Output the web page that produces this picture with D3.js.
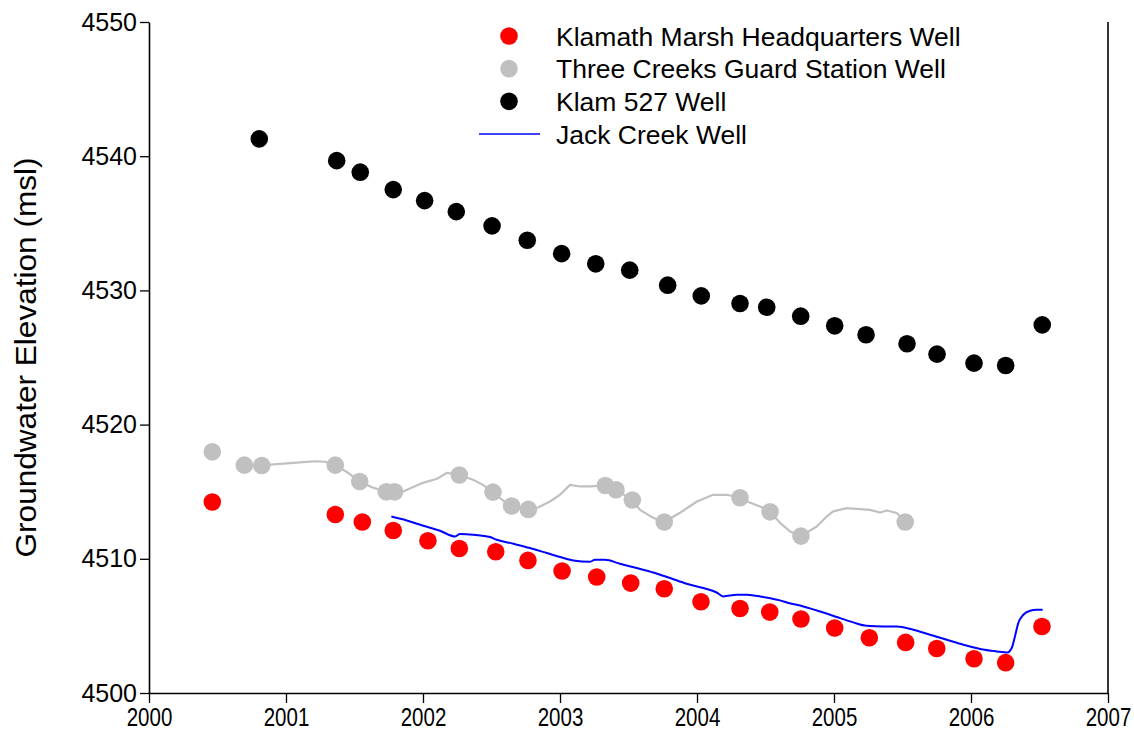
<!DOCTYPE html>
<html>
<head>
<meta charset="utf-8">
<script src="https://cdn.jsdelivr.net/npm/d3@7"></script>
<style>
  html, body { margin: 0; padding: 0; background: #fff; }
  svg { display: block; font-family: "Liberation Sans", Arial, sans-serif; }
</style>
</head>
<body>
<svg id="chart" width="1134" height="746"></svg>
<script>
// ---------------- DATA ----------------
const seriesNames = ["Klamath Marsh Headquarters Well", "Three Creeks Guard Station Well", "Klam 527 Well", "Jack Creek Well"];

const klamathYears = [2000.462, 2001.360, 2001.557, 2001.783, 2002.036, 2002.265, 2002.531, 2002.766, 2003.015, 2003.268, 2003.516, 2003.761, 2004.029, 2004.314, 2004.531, 2004.759, 2005.005, 2005.258, 2005.523, 2005.750, 2006.022, 2006.253, 2006.518];
const klamathValues = [4514.23, 4513.30, 4512.74, 4512.11, 4511.34, 4510.77, 4510.52, 4509.88, 4509.09, 4508.64, 4508.19, 4507.77, 4506.80, 4506.30, 4506.03, 4505.51, 4504.84, 4504.12, 4503.77, 4503.32, 4502.55, 4502.26, 4504.96];

const threeCreeksYears = [2000.462, 2000.696, 2000.823, 2001.360, 2001.538, 2001.732, 2001.793, 2002.265, 2002.511, 2002.647, 2002.769, 2003.331, 2003.409, 2003.528, 2003.761, 2004.314, 2004.533, 2004.759, 2005.520];
const threeCreeksValues = [4517.97, 4516.98, 4516.95, 4516.98, 4515.76, 4514.99, 4514.99, 4516.24, 4514.97, 4513.93, 4513.68, 4515.46, 4515.14, 4514.38, 4512.74, 4514.55, 4513.50, 4511.69, 4512.74];

// continuous record at Three Creeks (grey trace)
const threeCreeksLineYears = [2000.825, 2000.956, 2001.102, 2001.212, 2001.285, 2001.360, 2001.453, 2001.538, 2001.628, 2001.732, 2001.793, 2001.854, 2002.000, 2002.102, 2002.175, 2002.265, 2002.365, 2002.438, 2002.511, 2002.577, 2002.647, 2002.769, 2002.839, 2002.927, 2003.000, 2003.073, 2003.146, 2003.219, 2003.331, 2003.409, 2003.528, 2003.584, 2003.679, 2003.761, 2003.876, 2004.000, 2004.117, 2004.219, 2004.314, 2004.365, 2004.460, 2004.533, 2004.606, 2004.679, 2004.759, 2004.874, 2004.947, 2004.993, 2005.093, 2005.263, 2005.336, 2005.385, 2005.458, 2005.520];
const threeCreeksLineValues = [4516.97, 4517.08, 4517.19, 4517.27, 4517.23, 4516.98, 4516.41, 4515.76, 4515.33, 4514.99, 4514.99, 4515.02, 4515.66, 4515.96, 4516.41, 4516.24, 4515.89, 4515.51, 4514.97, 4514.40, 4513.93, 4513.68, 4513.82, 4514.27, 4514.77, 4515.51, 4515.39, 4515.39, 4515.46, 4515.14, 4514.38, 4513.65, 4513.06, 4512.74, 4513.43, 4514.27, 4514.77, 4514.77, 4514.55, 4514.27, 4513.90, 4513.50, 4512.68, 4512.04, 4511.69, 4512.41, 4513.15, 4513.53, 4513.78, 4513.65, 4513.45, 4513.60, 4513.41, 4512.74];

const klam527Years = [2000.805, 2001.370, 2001.542, 2001.783, 2002.012, 2002.243, 2002.504, 2002.761, 2003.012, 2003.261, 2003.509, 2003.786, 2004.031, 2004.314, 2004.509, 2004.757, 2005.005, 2005.234, 2005.533, 2005.752, 2006.022, 2006.253, 2006.520];
const klam527Values = [4541.29, 4539.67, 4538.81, 4537.51, 4536.69, 4535.87, 4534.81, 4533.74, 4532.74, 4531.98, 4531.51, 4530.39, 4529.59, 4529.02, 4528.75, 4528.08, 4527.36, 4526.69, 4526.02, 4525.25, 4524.58, 4524.40, 4527.43];

const jackCreekYears = [2001.769, 2001.881, 2002.002, 2002.124, 2002.234, 2002.270, 2002.367, 2002.489, 2002.538, 2002.659, 2002.781, 2002.903, 2003.000, 2003.097, 2003.219, 2003.255, 2003.328, 2003.438, 2003.560, 2003.681, 2003.803, 2003.925, 2004.046, 2004.144, 2004.192, 2004.290, 2004.363, 2004.484, 2004.606, 2004.655, 2004.776, 2004.922, 2005.020, 2005.141, 2005.239, 2005.360, 2005.458, 2005.579, 2005.701, 2005.823, 2005.944, 2006.066, 2006.188, 2006.265, 2006.297, 2006.321, 2006.345, 2006.382, 2006.431, 2006.480, 2006.523];
const jackCreekValues = [4513.15, 4512.86, 4512.46, 4512.09, 4511.66, 4511.84, 4511.79, 4511.62, 4511.42, 4511.12, 4510.80, 4510.43, 4510.13, 4509.88, 4509.78, 4509.93, 4509.93, 4509.63, 4509.31, 4508.98, 4508.57, 4508.14, 4507.82, 4507.49, 4507.20, 4507.32, 4507.32, 4507.15, 4506.90, 4506.75, 4506.45, 4506.00, 4505.66, 4505.26, 4505.01, 4504.96, 4504.96, 4504.71, 4504.34, 4503.97, 4503.60, 4503.28, 4503.10, 4503.02, 4503.35, 4504.22, 4505.21, 4505.83, 4506.13, 4506.20, 4506.20];

const xTicks = [2000, 2001, 2002, 2003, 2004, 2005, 2006, 2007];
const yTicks = [4500, 4510, 4520, 4530, 4540, 4550];
const yTitle = "Groundwater Elevation (msl)";

// ---------------- CHART ----------------
(function () {
const svg = d3.select("#chart");
const pLeft = 149, pRight = 1108, pTop = 22, pBottom = 693;

const x = d3.scaleLinear().domain([2000, 2007]).range([pLeft, pRight]);
const y = d3.scaleLinear().domain([4500, 4550]).range([pBottom, pTop]);

const zip = (xs, ys) => xs.map((v, i) => [v, ys[i]]);
const line = d3.line().x(d => x(d[0])).y(d => y(d[1]));

// grey continuous trace
svg.append("path")
  .datum(zip(threeCreeksLineYears, threeCreeksLineValues))
  .attr("d", line)
  .attr("fill", "none")
  .attr("stroke", "#c0c0c0")
  .attr("stroke-width", 2.2)
  .attr("stroke-linejoin", "round");

// grey points
svg.append("g").selectAll("circle")
  .data(zip(threeCreeksYears, threeCreeksValues))
  .join("circle")
  .attr("cx", d => x(d[0])).attr("cy", d => y(d[1]))
  .attr("r", 8.8).attr("fill", "#c0c0c0");

// black points
svg.append("g").selectAll("circle")
  .data(zip(klam527Years, klam527Values))
  .join("circle")
  .attr("cx", d => x(d[0])).attr("cy", d => y(d[1]))
  .attr("r", 8.8).attr("fill", "#000");

// red points
svg.append("g").selectAll("circle")
  .data(zip(klamathYears, klamathValues))
  .join("circle")
  .attr("cx", d => x(d[0])).attr("cy", d => y(d[1]))
  .attr("r", 8.8).attr("fill", "#ff0000");

// blue line
svg.append("path")
  .datum(zip(jackCreekYears, jackCreekValues))
  .attr("d", d3.line().x(d => x(d[0])).y(d => y(d[1])).curve(d3.curveMonotoneX))
  .attr("fill", "none")
  .attr("stroke", "#0000ff")
  .attr("stroke-width", 2)
  .attr("stroke-linejoin", "round");

// axes
const xAxis = svg.append("g")
  .attr("transform", `translate(0,${pBottom})`)
  .call(d3.axisBottom(x).tickValues(xTicks).tickFormat(d3.format("d")).tickSize(10).tickSizeOuter(0));
xAxis.select(".domain").attr("stroke", "#000").attr("stroke-width", 1.6);
xAxis.selectAll(".tick line").attr("stroke", "#000").attr("stroke-width", 1.3);
xAxis.selectAll(".tick text")
  .attr("font-family", "Liberation Sans, Arial, sans-serif")
  .attr("font-size", 25).attr("fill", "#000").attr("y", 14).attr("dy", "0.75em")
  .attr("transform", "scale(0.82,1)");

const yAxis = svg.append("g")
  .attr("transform", `translate(${pLeft},0)`)
  .call(d3.axisLeft(y).tickValues(yTicks).tickFormat(d3.format("d")).tickSize(9).tickSizeOuter(0));
yAxis.select(".domain").attr("stroke", "#000").attr("stroke-width", 1.6);
yAxis.selectAll(".tick line").attr("stroke", "#000").attr("stroke-width", 1.3);
yAxis.selectAll(".tick text")
  .attr("font-family", "Liberation Sans, Arial, sans-serif")
  .attr("font-size", 25).attr("fill", "#000").attr("x", -12);

// right frame line
svg.append("line")
  .attr("x1", pRight).attr("x2", pRight).attr("y1", pTop).attr("y2", pBottom)
  .attr("stroke", "#000").attr("stroke-width", 1.6);

// y title
svg.append("text")
  .attr("transform", `translate(36,${(pTop + pBottom) / 2}) rotate(-90)`)
  .attr("text-anchor", "middle")
  .attr("font-size", 30)
  .attr("textLength", 400)
  .attr("lengthAdjust", "spacingAndGlyphs")
  .attr("fill", "#000")
  .text(yTitle);

// legend
const legend = svg.append("g");
const legendColors = ["#ff0000", "#c0c0c0", "#000000", "#0000ff"];
const legendY = d3.scalePoint().domain(seriesNames).range([36, 134]);
seriesNames.forEach((name, i) => {
  const ly = legendY(name);
  if (i < 3) {
    legend.append("circle").attr("cx", 509).attr("cy", ly).attr("r", 8.8).attr("fill", legendColors[i]);
  } else {
    legend.append("line").attr("x1", 479).attr("x2", 540).attr("y1", ly).attr("y2", ly)
      .attr("stroke", legendColors[i]).attr("stroke-width", 1.6);
  }
  legend.append("text").attr("x", 556).attr("y", ly).attr("dy", "0.36em")
    .attr("font-size", 26.5).attr("fill", "#000").text(name);
});
})();
</script>
</body>
</html>
